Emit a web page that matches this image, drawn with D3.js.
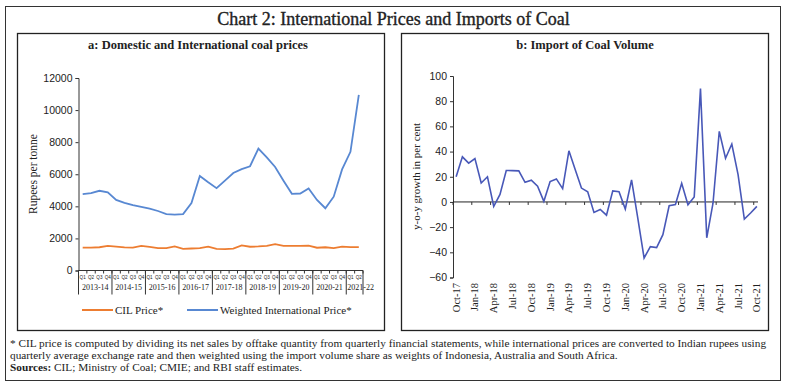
<!DOCTYPE html>
<html lang="en">
<head>
<meta charset="UTF-8">
<title>Chart 2: International Prices and Imports of Coal</title>
<script src="https://cdn.jsdelivr.net/npm/d3@7"></script>
<style>
  body { margin: 0; background: #fff; }
  svg text { fill: #222; }
  .serif { font-family: "Liberation Serif", "DejaVu Serif", serif; }
  .sans { font-family: "Liberation Sans", Arial, sans-serif; }
</style>
</head>
<body>
<div id="container"></div>
<script>
// ---- data ----
var years = ["2013-14", "2014-15", "2015-16", "2016-17", "2017-18", "2018-19", "2019-20", "2020-21", "2021-22"];
var quarters = [];
years.forEach(function (y, i) {
    var n = (i === years.length - 1) ? 2 : 4;
    for (var q = 1; q <= n; q++) quarters.push(y + " Q" + q);
});

var cilPrice = [1430, 1420, 1450, 1530, 1490, 1440, 1430, 1530, 1470, 1400, 1390, 1500,
                1350, 1370, 1390, 1490, 1350, 1330, 1370, 1560, 1480, 1500, 1540, 1640,
                1530, 1540, 1530, 1550, 1420, 1450, 1400, 1490, 1460, 1460];
var intlPrice = [4760, 4820, 4970, 4870, 4400, 4220, 4070, 3960, 3860, 3710, 3520, 3480,
                 3520, 4200, 5890, 5500, 5130, 5600, 6080, 6320, 6500, 7600, 7050, 6450,
                 5600, 4780, 4800, 5120, 4400, 3880, 4600, 6300, 7400, 10950];

var months = ["Oct-17", "Nov-17", "Dec-17", "Jan-18", "Feb-18", "Mar-18", "Apr-18", "May-18", "Jun-18",
              "Jul-18", "Aug-18", "Sep-18", "Oct-18", "Nov-18", "Dec-18", "Jan-19", "Feb-19", "Mar-19",
              "Apr-19", "May-19", "Jun-19", "Jul-19", "Aug-19", "Sep-19", "Oct-19", "Nov-19", "Dec-19",
              "Jan-20", "Feb-20", "Mar-20", "Apr-20", "May-20", "Jun-20", "Jul-20", "Aug-20", "Sep-20",
              "Oct-20", "Nov-20", "Dec-20", "Jan-21", "Feb-21", "Mar-21", "Apr-21", "May-21", "Jun-21",
              "Jul-21", "Aug-21", "Sep-21", "Oct-21"];
var importGrowth = [20, 35.8, 30.8, 34.5, 15, 20, -3.5, 6, 25, 24.9, 24.7, 15.6, 17.2, 12.5, 0.5,
                    16.2, 18.3, 10.6, 40.6, 25.7, 11, 8, -8.3, -6, -10.5, 8.8, 8.2, -5.6, 17.5, -13,
                    -44.5, -35.5, -36.3, -26, -3, -2, 14.8, -2.3, 4, 90, -28.5, -1, 56, 34.7, 46,
                    21.7, -13.6, -8.8, -3.5];
var monthTicks = months.filter(function (d, i) { return i % 3 === 0; });

var leftTicks = [0, 2000, 4000, 6000, 8000, 10000, 12000];
var rightTicks = [-60, -40, -20, 0, 20, 40, 60, 80, 100];

var colorCIL = "#ed7d31", colorIntl = "#5888d2", colorImport = "#4858b8";

var W = 787, H = 388;
var svg = d3.select("#container").append("svg")
    .attr("width", W).attr("height", H);

// frames
svg.append("rect").attr("x", 5.5).attr("y", 6.5).attr("width", 775).attr("height", 374)
    .attr("fill", "none").attr("stroke", "#333").attr("stroke-width", 1);
svg.append("rect").attr("x", 17.5).attr("y", 33.5).attr("width", 367).attr("height", 297)
    .attr("fill", "none").attr("stroke", "#222").attr("stroke-width", 1.3);
svg.append("rect").attr("x", 401.5).attr("y", 33.5).attr("width", 367).attr("height", 297)
    .attr("fill", "none").attr("stroke", "#222").attr("stroke-width", 1.3);

svg.append("text").attr("class", "serif")
    .attr("x", W / 2).attr("y", 25).attr("text-anchor", "middle")
    .style("font-size", "18px").style("stroke", "#222").style("stroke-width", "0.35px")
    .text("Chart 2: International Prices and Imports of Coal");

svg.append("text").attr("class", "serif")
    .attr("x", 198).attr("y", 49).attr("text-anchor", "middle")
    .style("font-size", "12.5px").style("font-weight", "bold")
    .text("a: Domestic and International coal prices");
svg.append("text").attr("class", "serif")
    .attr("x", 585).attr("y", 49).attr("text-anchor", "middle")
    .style("font-size", "12.5px").style("font-weight", "bold")
    .text("b: Import of Coal Volume");

// ---- left chart ----
var xq = d3.scaleBand().domain(quarters).range([78.5, 363]);
var yl = d3.scaleLinear().domain([0, 12000]).range([270.5, 78]);

var gl = svg.append("g");
gl.append("g")
    .attr("transform", "translate(78.5,0)")
    .call(d3.axisLeft(yl).tickValues(leftTicks).tickSize(3).tickFormat(d3.format("d")))
    .call(function (g) {
        g.selectAll("text").attr("class", "sans").style("font-size", "10.5px").attr("fill", "#333");
        g.selectAll("line,path").attr("stroke", "#333");
    });

// x axis with quarter ticks
var xAxisL = gl.append("g").attr("transform", "translate(0,270.5)");
xAxisL.append("line").attr("x1", 78.5).attr("x2", 363).attr("stroke", "#333");
xAxisL.selectAll("line.qt")
    .data(quarters.concat(["end"]))
    .enter().append("line")
    .attr("x1", function (d, i) { return 78.5 + i * xq.bandwidth(); })
    .attr("x2", function (d, i) { return 78.5 + i * xq.bandwidth(); })
    .attr("y1", 0).attr("y2", 3).attr("stroke", "#333");
xAxisL.selectAll("text.q")
    .data(quarters)
    .enter().append("text")
    .attr("class", "sans")
    .attr("x", function (d) { return xq(d) + xq.bandwidth() / 2; })
    .attr("y", 8)
    .attr("text-anchor", "middle")
    .style("font-size", "4.6px").attr("fill", "#333")
    .text(function (d) { return d.split(" ")[1]; });
// year separators
var yearStart = years.map(function (y) { return quarters.indexOf(y + " Q1"); });
xAxisL.selectAll("line.ys")
    .data(yearStart)
    .enter().append("line")
    .attr("x1", function (i) { return 78.5 + i * xq.bandwidth(); })
    .attr("x2", function (i) { return 78.5 + i * xq.bandwidth(); })
    .attr("y1", 0).attr("y2", 24).attr("stroke", "#333");
xAxisL.append("line")
    .attr("x1", 363).attr("x2", 363).attr("y1", 0).attr("y2", 24).attr("stroke", "#333");
xAxisL.selectAll("text.yr")
    .data(years)
    .enter().append("text")
    .attr("class", "serif")
    .attr("x", function (y, i) {
        var a = yearStart[i], b = (i + 1 < years.length) ? yearStart[i + 1] : quarters.length;
        if (i === years.length - 1) return 78.5 + a * xq.bandwidth() + 1;
        return 78.5 + (a + b) / 2 * xq.bandwidth();
    })
    .attr("y", 19)
    .attr("text-anchor", function (y, i) { return i === years.length - 1 ? "start" : "middle"; })
    .style("font-size", "8px").attr("fill", "#333")
    .text(function (d) { return d; });

gl.append("text").attr("class", "serif")
    .attr("transform", "translate(37," + ((78 + 270) / 2) + ") rotate(-90)")
    .attr("text-anchor", "middle")
    .style("font-size", "11.5px")
    .text("Rupees per tonne");

var lineL = function (vals) {
    return d3.line()
        .x(function (d, i) { return xq(quarters[i]) + xq.bandwidth() / 2; })
        .y(function (d) { return yl(d); })(vals);
};
gl.append("path").attr("d", lineL(cilPrice)).attr("fill", "none")
    .attr("stroke", colorCIL).attr("stroke-width", 1.8);
gl.append("path").attr("d", lineL(intlPrice)).attr("fill", "none")
    .attr("stroke", colorIntl).attr("stroke-width", 1.8);

// legend
var leg = [{ name: "CIL Price*", color: colorCIL, x: 82 }, { name: "Weighted International Price*", color: colorIntl, x: 187 }];
var lg = gl.selectAll("g.leg").data(leg).enter().append("g")
    .attr("transform", function (d) { return "translate(" + d.x + ",310)"; });
lg.append("line").attr("x1", 0).attr("x2", 31).attr("stroke", function (d) { return d.color; })
    .attr("stroke-width", 2);
lg.append("text").attr("class", "serif").attr("x", 33).attr("y", 3.5)
    .style("font-size", "11px").text(function (d) { return d.name; });

// ---- right chart ----
var xm = d3.scaleBand().domain(months).range([453, 760]);
var yr = d3.scaleLinear().domain([-60, 100]).range([277.5, 76]);

var gr = svg.append("g");
gr.append("g")
    .attr("transform", "translate(453,0)")
    .call(d3.axisLeft(yr).tickValues(rightTicks).tickSize(3))
    .call(function (g) {
        g.selectAll("text").attr("class", "sans").style("font-size", "10.5px").attr("fill", "#333");
        g.selectAll("line,path").attr("stroke", "#333");
    });
var zeroY = yr(0);
gr.append("line").attr("x1", 453).attr("x2", 758).attr("y1", zeroY).attr("y2", zeroY).attr("stroke", "#222");
gr.selectAll("line.mt")
    .data(monthTicks)
    .enter().append("line")
    .attr("x1", function (d) { return xm(d); })
    .attr("x2", function (d) { return xm(d); })
    .attr("y1", zeroY).attr("y2", zeroY + 3).attr("stroke", "#333");
gr.selectAll("text.mt")
    .data(monthTicks)
    .enter().append("text")
    .attr("class", "serif")
    .attr("transform", function (d) {
        return "translate(" + (xm(d) + xm.bandwidth() / 2 + 3.5) + ",283) rotate(-90)";
    })
    .attr("text-anchor", "end")
    .style("font-size", "10.5px").attr("fill", "#333")
    .text(function (d) { return d; });

gr.append("text").attr("class", "serif")
    .attr("transform", "translate(420," + ((76 + 277) / 2) + ") rotate(-90)")
    .attr("text-anchor", "middle")
    .style("font-size", "11px")
    .text("y-o-y growth in per cent");

gr.append("path")
    .attr("d", d3.line()
        .x(function (d, i) { return xm(months[i]) + xm.bandwidth() / 2; })
        .y(function (d) { return yr(d); })(importGrowth))
    .attr("fill", "none").attr("stroke", colorImport).attr("stroke-width", 1.6);

// ---- notes ----
var notes = svg.append("g").attr("class", "serif").style("font-size", "11.3px");
notes.append("text").attr("x", 10).attr("y", 347)
    .text("* CIL price is computed by dividing its net sales by offtake quantity from quarterly financial statements, while international prices are converted to Indian rupees using");
notes.append("text").attr("x", 10).attr("y", 359)
    .text("quarterly average exchange rate and then weighted using the import volume share as weights of Indonesia, Australia and South Africa.");
var src = notes.append("text").attr("x", 10).attr("y", 371);
src.append("tspan").style("font-weight", "bold").text("Sources: ");
src.append("tspan").text("CIL; Ministry of Coal; CMIE; and RBI staff estimates.");
</script>
</body>
</html>
